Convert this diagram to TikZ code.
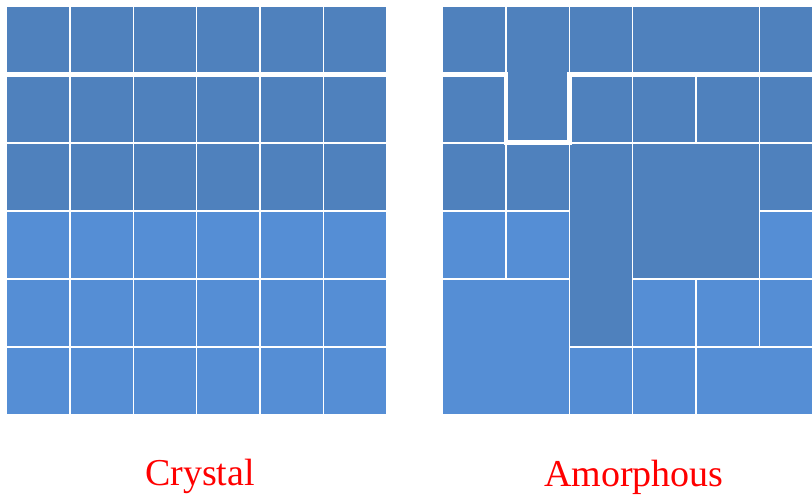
\documentclass[tikz,border=0pt]{standalone}
\usepackage{fontspec}
\setmainfont{Liberation Serif}
\usetikzlibrary{positioning}
\definecolor{celldark}{HTML}{4F81BD}
\definecolor{celllight}{HTML}{558ED5}
\tikzset{
  cell/.style    = {draw=white, line width=1.5pt},
  grain/.style   = {draw=white, line width=4.6pt},
  caption/.style = {text=red, font=\fontsize{38}{40}\selectfont,
                    inner sep=0pt, anchor=base},
}

\begin{document}
\begin{tikzpicture}[x=1pt,y=-1pt]
  \useasboundingbox (0,0) rectangle (812,497);
  \clip (0,0) rectangle (812,497);

  % =======================================================================
  %  Crystal: regular 6x6 lattice
  % =======================================================================
  \foreach \r/\col in {0/celldark,1/celldark,2/celldark,
                       3/celllight,4/celllight,5/celllight} {
    \foreach \c in {0,...,5} {
      \filldraw[cell,fill=\col] ({6.5+63.4*\c},{6.7+68.05*\r})
            rectangle +(63.4,68.05);
    }
  }
  \draw[grain] (6.5,74.75) -- (386.5,74.75);

  % =======================================================================
  %  Amorphous: merged and shifted cells
  % =======================================================================
  \foreach \c/\r/\w/\h/\col in {
      0/0/1/1/celldark, 1/0/1/2/celldark, 2/0/1/1/celldark,
      3/0/2/1/celldark, 5/0/1/1/celldark,
      0/1/1/1/celldark, 2/1/1/1/celldark, 3/1/1/1/celldark,
      4/1/1/1/celldark, 5/1/1/1/celldark,
      0/2/1/1/celldark, 1/2/1/1/celldark, 2/2/1/3/celldark,
      3/2/2/2/celldark, 5/2/1/1/celldark,
      0/3/1/1/celllight, 1/3/1/1/celllight, 5/3/1/1/celllight,
      0/4/2/2/celllight, 3/4/1/1/celllight, 4/4/1/1/celllight,
      5/4/1/1/celllight,
      2/5/1/1/celllight, 3/5/1/1/celllight, 4/5/2/1/celllight} {
    \filldraw[cell,fill=\col] ({442.5+63.4*\c},{6.7+68.05*\r})
          rectangle +({63.4*\w},{68.05*\h});
  }
  \draw[grain] (442.5,74.75) -- (505.9,74.75) -- (505.9,142.8)
        -- (569.3,142.8) -- (569.3,74.75) -- (812,74.75);

  % ---- captions ----------------------------------------------------------
  \node[caption] (crystal)   at (200,485) {Crystal};
  \node[caption] (amorphous) at (634,486) {Amorphous};
\end{tikzpicture}
\end{document}
